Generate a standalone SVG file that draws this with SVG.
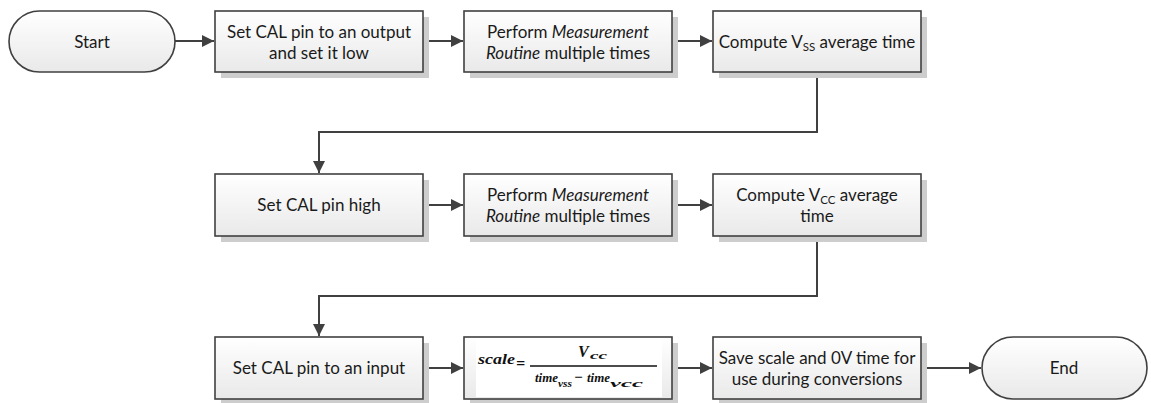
<svg xmlns="http://www.w3.org/2000/svg" width="1151" height="403" viewBox="0 0 1151 403">
  <style>
    .box { fill: url(#fillGrad); stroke: #404040; stroke-width: 1.6; }
    .shadow { fill: #cdcdcd; }
    .lbl { font-family: Lato, "Open Sans", sans-serif; font-size: 17px; fill: #1a1a1a; text-anchor: middle; }
    .sub { font-size: 11.5px; }
    .it { font-style: italic; }
    .wire { fill: none; stroke: #404040; stroke-width: 2; }
    .math { font-family: "Liberation Serif", serif; font-weight: bold; font-style: italic; fill: #111; }
  </style>
  <defs>
    <linearGradient id="fillGrad" x1="0" y1="0" x2="0" y2="1">
      <stop offset="0" stop-color="#ffffff"/>
      <stop offset="1" stop-color="#e9e9e9"/>
    </linearGradient>
    <marker id="arrow" viewBox="0 0 12 12" refX="12" refY="6" markerWidth="12" markerHeight="12" markerUnits="userSpaceOnUse" orient="auto">
      <path d="M0,0 L12,6 L0,12 z" fill="#404040"/>
    </marker>
  </defs>

  <!-- connectors -->
  <g id="connectors">
    <path class="wire" d="M175,41 H214" marker-end="url(#arrow)"/>
    <path class="wire" d="M423,41 H463" marker-end="url(#arrow)"/>
    <path class="wire" d="M672,41 H712" marker-end="url(#arrow)"/>
    <path class="wire" d="M817,72 V132 H319 V173" marker-end="url(#arrow)"/>
    <path class="wire" d="M423,205 H463" marker-end="url(#arrow)"/>
    <path class="wire" d="M672,205 H712" marker-end="url(#arrow)"/>
    <path class="wire" d="M817,236 V296 H319 V336" marker-end="url(#arrow)"/>
    <path class="wire" d="M423,368 H463" marker-end="url(#arrow)"/>
    <path class="wire" d="M672,368 H712" marker-end="url(#arrow)"/>
    <path class="wire" d="M921,368 H981" marker-end="url(#arrow)"/>
  </g>

  <!-- row 1 -->
  <g id="start">
    <rect class="box" x="9" y="11" width="166" height="61" rx="30.5" ry="30.5"/>
    <text class="lbl" x="92" y="48">Start</text>
  </g>
  <g id="set-output-low">
    <rect class="shadow" x="221" y="17" width="208" height="61"/>
    <rect class="box" x="215" y="11" width="208" height="61"/>
    <text class="lbl" x="319" y="38">Set CAL pin to an output</text>
    <text class="lbl" x="319" y="59">and set it low</text>
  </g>
  <g id="measure-vss">
    <rect class="shadow" x="470" y="17" width="208" height="61"/>
    <rect class="box" x="464" y="11" width="208" height="61"/>
    <text class="lbl" x="568" y="38">Perform <tspan class="it">Measurement</tspan></text>
    <text class="lbl" x="568" y="59"><tspan class="it">Routine</tspan> multiple times</text>
  </g>
  <g id="compute-vss">
    <rect class="shadow" x="719" y="17" width="208" height="61"/>
    <rect class="box" x="713" y="11" width="208" height="61"/>
    <text class="lbl" x="817" y="48">Compute V<tspan class="sub" dy="3">SS</tspan><tspan dy="-3"> average time</tspan></text>
  </g>

  <!-- row 2 -->
  <g id="set-high">
    <rect class="shadow" x="221" y="180" width="208" height="62"/>
    <rect class="box" x="215" y="174" width="208" height="62"/>
    <text class="lbl" x="319" y="211">Set CAL pin high</text>
  </g>
  <g id="measure-vcc">
    <rect class="shadow" x="470" y="180" width="208" height="62"/>
    <rect class="box" x="464" y="174" width="208" height="62"/>
    <text class="lbl" x="568" y="201">Perform <tspan class="it">Measurement</tspan></text>
    <text class="lbl" x="568" y="222"><tspan class="it">Routine</tspan> multiple times</text>
  </g>
  <g id="compute-vcc">
    <rect class="shadow" x="719" y="180" width="208" height="62"/>
    <rect class="box" x="713" y="174" width="208" height="62"/>
    <text class="lbl" x="817" y="201">Compute V<tspan class="sub" dy="3">CC</tspan><tspan dy="-3"> average</tspan></text>
    <text class="lbl" x="817" y="222">time</text>
  </g>

  <!-- row 3 -->
  <g id="set-input">
    <rect class="shadow" x="221" y="343" width="208" height="62"/>
    <rect class="box" x="215" y="337" width="208" height="62"/>
    <text class="lbl" x="319" y="374">Set CAL pin to an input</text>
  </g>
  <g id="scale-formula">
    <rect class="shadow" x="470" y="343" width="208" height="62"/>
    <rect class="box" x="464" y="337" width="208" height="62"/>
    <rect x="476" y="340" width="186" height="57" fill="#ffffff"/>
    <text class="math" x="478" y="364" font-size="15" textLength="37" lengthAdjust="spacingAndGlyphs">scale</text>
    <text class="math" x="516" y="369" font-size="16" font-style="normal">=</text>
    <line x1="530" y1="366" x2="657" y2="366" stroke="#111" stroke-width="1.6"/>
    <text class="math" x="578" y="357" font-size="16">V</text>
    <text class="math" x="590" y="359" font-size="10" textLength="17" lengthAdjust="spacingAndGlyphs">cc</text>
    <text class="math" x="535" y="382" font-size="13" textLength="23" lengthAdjust="spacingAndGlyphs">time</text>
    <text class="math" x="558" y="387" font-size="10" textLength="14" lengthAdjust="spacingAndGlyphs">vss</text>
    <text class="math" x="574" y="382" font-size="15" font-style="normal">−</text>
    <text class="math" x="587" y="382" font-size="13" textLength="23" lengthAdjust="spacingAndGlyphs">time</text>
    <text class="math" x="610" y="387" font-size="10" textLength="33" lengthAdjust="spacingAndGlyphs">vcc</text>
  </g>
  <g id="save-results">
    <rect class="shadow" x="719" y="343" width="208" height="62"/>
    <rect class="box" x="713" y="337" width="208" height="62"/>
    <text class="lbl" x="817" y="364">Save scale and 0V time for</text>
    <text class="lbl" x="817" y="385">use during conversions</text>
  </g>
  <g id="end">
    <rect class="box" x="982" y="337" width="165" height="62" rx="31" ry="31"/>
    <text class="lbl" x="1064" y="374">End</text>
  </g>
</svg>
